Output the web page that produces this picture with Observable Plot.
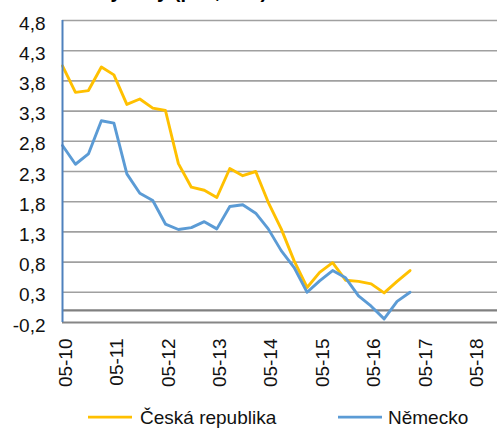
<!DOCTYPE html>
<html><head><meta charset="utf-8">
<script src="https://cdn.jsdelivr.net/npm/d3@7"></script>
<script src="https://cdn.jsdelivr.net/npm/@observablehq/plot@0.6"></script>
<style>
body{margin:0;background:#fff;font-family:"Liberation Sans",Arial,sans-serif;}
#wrap{position:relative;width:497px;height:429px;overflow:hidden;background:#fff;}
#title{position:absolute;left:37px;top:-19px;font-weight:bold;font-size:20px;line-height:20px;white-space:nowrap;color:#000;z-index:2}
#chart{position:absolute;left:0;top:0;}
#legend{position:absolute;left:0;top:400px;}
</style></head><body>
<div id="wrap"><div id="title">10leté výnosy (p.a., v %)</div><div id="chart"></div><div id="legend"></div></div>
<script>
const dates = ["2010-05","2010-08","2010-11","2011-02","2011-05","2011-08","2011-11","2012-02","2012-05","2012-08","2012-11","2013-02","2013-05","2013-08","2013-11","2014-02","2014-05","2014-08","2014-11","2015-02","2015-05","2015-08","2015-11","2016-02","2016-05","2016-08","2016-11","2017-02"];
const cz = [4.05,3.61,3.64,4.03,3.90,3.41,3.50,3.35,3.31,2.43,2.04,1.99,1.87,2.35,2.23,2.30,1.79,1.35,0.82,0.38,0.63,0.79,0.50,0.48,0.44,0.29,0.48,0.66];
const de = [2.73,2.42,2.59,3.14,3.10,2.26,1.94,1.82,1.43,1.34,1.37,1.47,1.35,1.72,1.75,1.61,1.35,0.99,0.71,0.30,0.49,0.66,0.54,0.24,0.07,-0.14,0.15,0.30];
const seriesNames = ["Česká republika","Německo"];
const colors = ["#FFC000","#5B9BD5"];
const yTicks = [-0.2,0.3,0.8,1.3,1.8,2.3,2.8,3.3,3.8,4.3,4.8];
const xTickLabels = ["05-10","05-11","05-12","05-13","05-14","05-15","05-16","05-17","05-18"];

const parse = s => { const [y,m] = s.split("-").map(Number); return new Date(Date.UTC(y, m-1, 1)); };
const rows = [];
dates.forEach((d,i) => {
  rows.push({date: parse(d), v: cz[i], s: seriesNames[0]});
  rows.push({date: parse(d), v: de[i], s: seriesNames[1]});
});
const xTicks = xTickLabels.map(t => { const [m,y] = t.split("-").map(Number); return new Date(Date.UTC(2000+y, m-1, 1)); });
const xDomain = [xTicks[0], new Date(Date.UTC(2018,9,15))];

const chart = Plot.plot({
  width: 497, height: 400,
  marginLeft: 62, marginRight: 0, marginTop: 20, marginBottom: 78,
  style: {fontFamily: "'Liberation Sans', Arial, sans-serif", fontSize: "19px", color: "#111", background: "transparent"},
  x: {type: "utc", domain: xDomain, label: null},
  y: {domain: [-0.2, 4.8], label: null},
  color: {domain: seriesNames, range: colors},
  marks: [
    Plot.ruleY(yTicks.slice(1), {stroke: "#a0a0a0", strokeWidth: 1.6}),
    Plot.ruleY([0], {stroke: "#808080", strokeWidth: 2.2}),
    Plot.ruleY([-0.2], {stroke: "#868686", strokeWidth: 2}),
    Plot.lineY(rows, {x: "date", y: "v", z: "s", stroke: "s", strokeWidth: 2.9, curve: "linear"}),
    Plot.ruleX([xDomain[0]], {y1: -0.2, y2: 4.8, stroke: "#4F81BD", strokeWidth: 2}),
    Plot.axisY({ticks: yTicks, tickSize: 0, tickPadding: 17, dy: 3, label: null,
      tickFormat: d => d.toFixed(1).replace(".", ","), style: {letterSpacing: "1px"}}),
    Plot.axisX({ticks: xTicks, tickSize: 0, tickPadding: 16, tickRotate: -90, dx: 3, label: null,
      tickFormat: (d, i) => xTickLabels[i], style: {letterSpacing: "1px"}})
  ]
});
document.getElementById("chart").appendChild(chart);

// legend
const lg = d3.select("#legend").append("svg").attr("width", 497).attr("height", 29)
  .style("font-family", "'Liberation Sans', Arial, sans-serif").style("font-size", "19px");
const items = [{x: 88, tx: 140}, {x: 338, tx: 388}];
seriesNames.forEach((n, i) => {
  lg.append("line").attr("x1", items[i].x).attr("x2", items[i].x + 44)
    .attr("y1", 17).attr("y2", 17).attr("stroke", colors[i]).attr("stroke-width", 2.75);
  lg.append("text").attr("x", items[i].tx).attr("y", 24).attr("fill", "#111").text(n);
});
</script>
</body></html>
